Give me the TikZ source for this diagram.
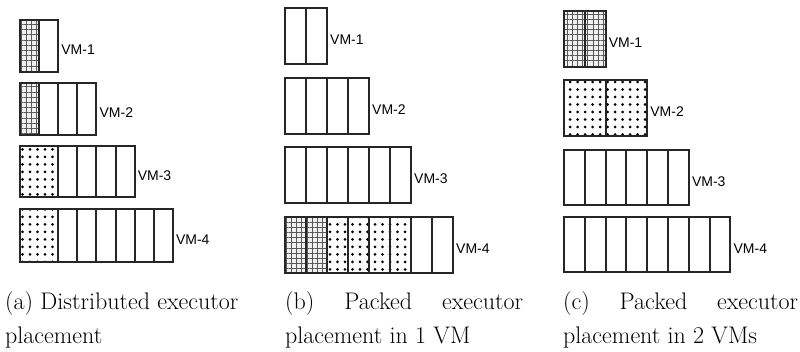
\documentclass[tikz,border=0pt]{standalone}
\usepackage{fontspec}
\newfontfamily\vmfont{Liberation Sans}
\usetikzlibrary{calc,patterns.meta,backgrounds}

\tikzset{
  vmbox/.style={rectangle, draw=black!85, line width=2pt, inner sep=0pt, outer sep=0pt},
  divider/.style={draw=black!85, line width=2pt},
  vmlabel/.style={anchor=west, inner sep=0pt, font=\vmfont\fontsize{14}{16}\selectfont},
  gridcell/.style={fill=black!6, postaction={pattern={Hatch[angle=0,distance=5.2pt,line width=0.6pt]}, pattern color=black!65}},
  dotcell/.style={pattern={Dots[distance=7.5pt,radius=1.5pt]}, pattern color=black},
  caption/.style={anchor=base west, inner sep=0pt, font=\fontsize{24}{33}\selectfont}
}

% name, x, y, cell width, height, cells, dividers, label
\newcommand{\vmrow}[8]{%
  \node (#1) [vmbox, minimum width=#4*#6, minimum height=#5, anchor=north west] at (#2,#3) {};
  \foreach \d in {#7}
    \draw [divider] ($(#1.north west)+(\d*#4,0)$) -- ($(#1.south west)+(\d*#4,0)$);
  \node (#1l) [vmlabel] at ($(#1.east)+(3,4)$) {#8};
}

\begin{document}
\begin{tikzpicture}[x=1pt,y=-1pt]
  \useasboundingbox (0,0) rectangle (800,352);

  % (a) distributed
  \vmrow{a1}{20}{20}{19.1}{52}{2}{1}{VM-1}
  \vmrow{a2}{20}{83}{19.1}{52}{4}{1,2,3}{VM-2}
  \vmrow{a3}{20}{146}{19.1}{51}{6}{2,3,4,5}{VM-3}
  \vmrow{a4}{20}{209}{19.1}{53}{8}{2,...,7}{VM-4}

  % (b) packed in 1 VM
  \vmrow{b1}{285}{8}{21}{56}{2}{1}{VM-1}
  \vmrow{b2}{285}{78}{21}{56}{4}{1,2,3}{VM-2}
  \vmrow{b3}{285}{147}{21}{56}{6}{1,...,5}{VM-3}
  \vmrow{b4}{285}{217}{21}{56}{8}{1,...,7}{VM-4}

  % (c) packed in 2 VMs
  \vmrow{c1}{564}{11}{20.8}{56}{2}{1}{VM-1}
  \vmrow{c2}{564}{80}{20.8}{56}{4}{2}{VM-2}
  \vmrow{c3}{564}{150}{20.8}{55}{6}{1,...,5}{VM-3}
  \vmrow{c4}{564}{217}{20.8}{55}{8}{1,...,7}{VM-4}

  \begin{scope}[on background layer]
    \fill [gridcell] (a1.north west) rectangle ($(a1.south west)+(19.1,0)$);
    \fill [gridcell] (a2.north west) rectangle ($(a2.south west)+(19.1,0)$);
    \fill [dotcell] (a3.north west) rectangle ($(a3.south west)+(38.2,0)$);
    \fill [dotcell] (a4.north west) rectangle ($(a4.south west)+(38.2,0)$);
    \fill [gridcell] (b4.north west) rectangle ($(b4.south west)+(42,0)$);
    \fill [dotcell] ($(b4.north west)+(42,0)$) rectangle ($(b4.south west)+(126,0)$);
    \fill [gridcell] (c1.north west) rectangle (c1.south east);
    \fill [dotcell] (c2.north west) rectangle (c2.south east);
  \end{scope}

  % captions
  \node (capa1) [caption] at (5,310) {(a) Distributed executor};
  \node (capa2) [caption] at (5,344) {placement};
  \node (capb1) [caption] at (285,310) {\makebox[238pt][s]{(b) Packed executor}};
  \node (capb2) [caption] at (285,344) {placement in 1 VM};
  \node (capc1) [caption] at (563,310) {\makebox[235pt][s]{(c) Packed executor}};
  \node (capc2) [caption] at (563,344) {placement in 2 VMs};
\end{tikzpicture}
\end{document}
